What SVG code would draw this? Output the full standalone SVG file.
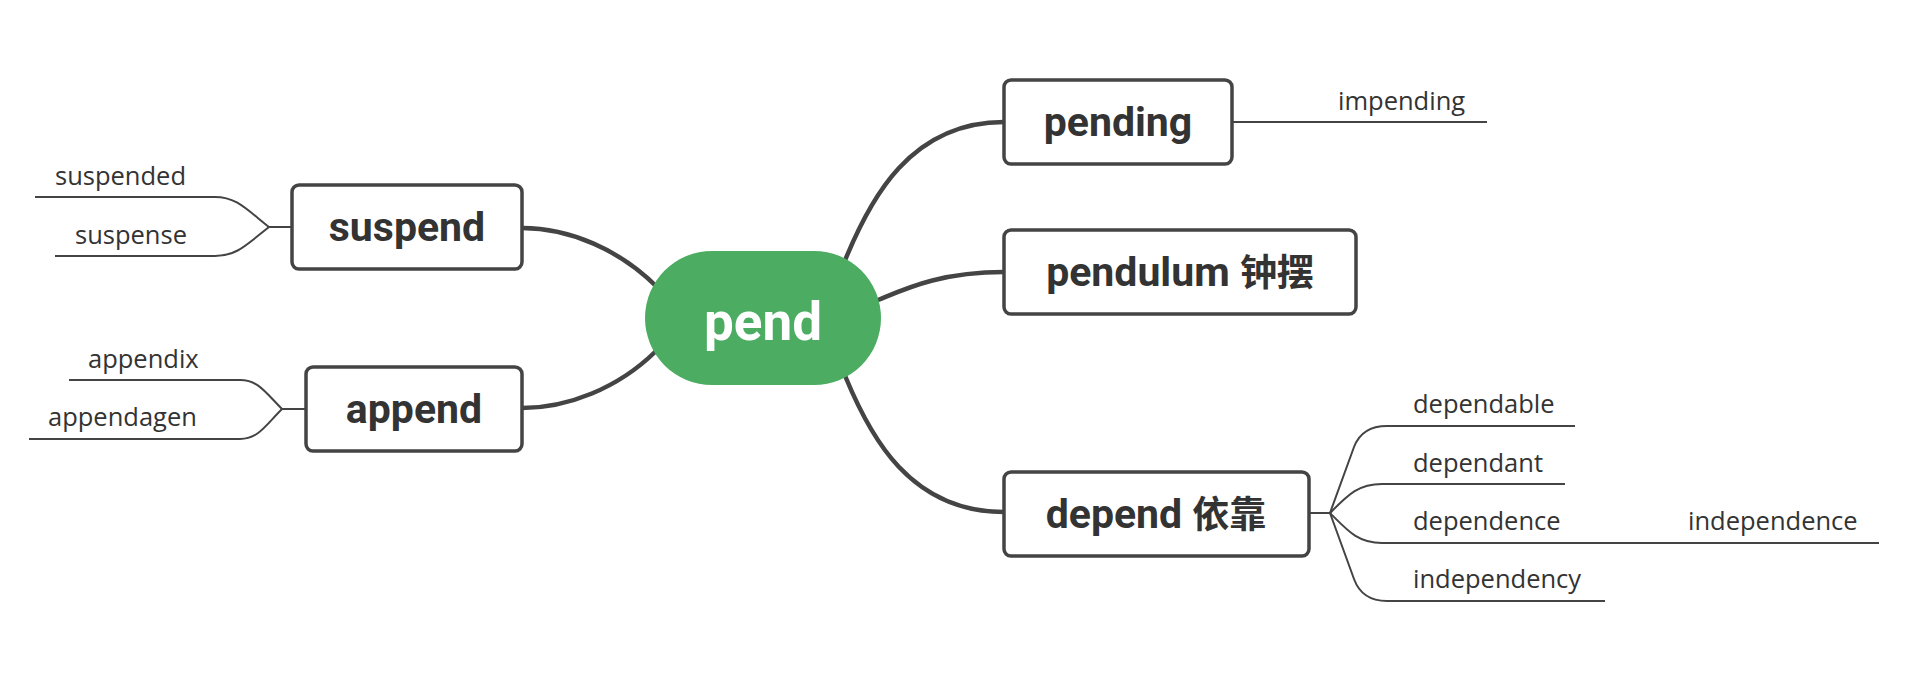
<svg xmlns="http://www.w3.org/2000/svg" width="1908" height="682" viewBox="0 0 1908 682">
<style>
.bg{fill:#ffffff}
.box{fill:#ffffff;stroke:#444444;stroke-width:3.5}
.main{fill:#333333;font-family:Roboto,"Noto Sans CJK SC",sans-serif;font-weight:bold;font-size:41px;text-anchor:middle}
.cjk{font-family:"Noto Sans CJK SC",sans-serif;font-size:37px}
.leaf{fill:#333333;font-family:"Open Sans","Noto Sans",sans-serif;font-size:25.5px}
.thick{fill:none;stroke:#444444;stroke-width:4.5;stroke-linecap:round}
.thin{fill:none;stroke:#444444;stroke-width:2}
.root{fill:#4bac62}
.roottext{fill:#ffffff;font-family:Roboto,sans-serif;font-weight:bold;font-size:53px;text-anchor:middle}
</style>
<rect class="bg" x="0" y="0" width="1908" height="682"/>
<g id="connectors">
  <path class="thick" d="M834,287 L846,258 C870,200 910,122 1004,122"/>
  <path class="thick" d="M860,307 L878,300 C905,289 940,272 1004,272"/>
  <path class="thick" d="M834,349 L846,378 C870,436 910,512 1004,512"/>
  <path class="thick" d="M522,228 C570,228 620,250 657,287 L680,310"/>
  <path class="thick" d="M522,408 C568,408 618,388 655,352 L678,330"/>
  <path class="thin" d="M269,227 L292,227"/>
  <path class="thin" d="M269,227 C245,208 236,197 215,197 L35,197"/>
  <path class="thin" d="M269,227 C245,246 236,256 215,256 L55,256"/>
  <path class="thin" d="M282,409 L306,409"/>
  <path class="thin" d="M282,409 C265,392 258,380 240,380 L69,380"/>
  <path class="thin" d="M282,409 C265,426 258,439 240,439 L29,439"/>
  <path class="thin" d="M1232,122 L1487,122"/>
  <path class="thin" d="M1309,513 L1330,513"/>
  <path class="thin" d="M1330,513 L1354,447 Q1362,426 1387,426 L1575,426"/>
  <path class="thin" d="M1330,513 C1348,495 1358,484 1382,484 L1565,484"/>
  <path class="thin" d="M1330,513 C1348,531 1358,543 1382,543 L1583,543"/>
  <path class="thin" d="M1583,543 L1879,543"/>
  <path class="thin" d="M1330,513 L1354,579 Q1362,601 1387,601 L1605,601"/>
</g>
<g id="node-pend">
  <rect class="root" x="645" y="251" width="236" height="134" rx="67"/>
  <text class="roottext" x="763" y="340">pend</text>
</g>
<g id="node-suspend">
  <rect class="box" x="292" y="185" width="230" height="84" rx="7"/>
  <text class="main" x="407" y="241">suspend</text>
</g>
<g id="node-append">
  <rect class="box" x="306" y="367" width="216" height="84" rx="7"/>
  <text class="main" x="414" y="423">append</text>
</g>
<g id="node-pending">
  <rect class="box" x="1004" y="80" width="228" height="84" rx="7"/>
  <text class="main" x="1118" y="136">pending</text>
</g>
<g id="node-pendulum">
  <rect class="box" x="1004" y="230" width="352" height="84" rx="7"/>
  <text class="main" x="1180" y="286">pendulum <tspan class="cjk">钟摆</tspan></text>
</g>
<g id="node-depend">
  <rect class="box" x="1004" y="472" width="305" height="84" rx="7"/>
  <text class="main" x="1156" y="528">depend <tspan class="cjk">依靠</tspan></text>
</g>
<g id="leaf-suspended"><text class="leaf" x="55" y="184.5">suspended</text></g>
<g id="leaf-suspense"><text class="leaf" x="75" y="243.5">suspense</text></g>
<g id="leaf-appendix"><text class="leaf" x="88" y="367.5">appendix</text></g>
<g id="leaf-appendagen"><text class="leaf" x="48" y="426">appendagen</text></g>
<g id="leaf-impending"><text class="leaf" x="1338" y="109.5">impending</text></g>
<g id="leaf-dependable"><text class="leaf" x="1413" y="413">dependable</text></g>
<g id="leaf-dependant"><text class="leaf" x="1413" y="471.5">dependant</text></g>
<g id="leaf-dependence"><text class="leaf" x="1413" y="530">dependence</text></g>
<g id="leaf-independence"><text class="leaf" x="1688" y="530">independence</text></g>
<g id="leaf-independency"><text class="leaf" x="1413" y="588">independency</text></g>
</svg>
